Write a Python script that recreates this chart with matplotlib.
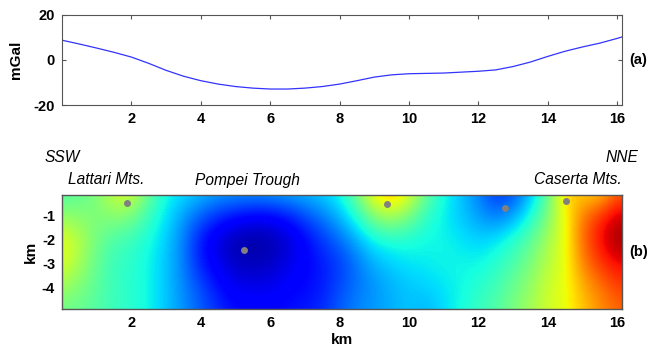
import numpy as np
import matplotlib
matplotlib.use("Agg")
import matplotlib.pyplot as plt

plt.rcParams['font.family'] = ['Liberation Sans', 'DejaVu Sans']
plt.rcParams['axes.unicode_minus'] = False

# (a) gravity profile, mGal
prof_x = [0, 0.5, 1, 1.5, 2, 2.5, 3, 3.5, 4, 4.5, 5, 5.5, 6, 6.5, 7, 7.5, 8,
          8.5, 9, 9.5, 10, 11, 12, 12.5, 13, 13.5, 14, 14.5, 15, 15.5, 16, 16.13]
prof_g = [8.8, 7.1, 5.3, 3.4, 1.3, -1.5, -4.6, -7.2, -9.2, -10.7, -11.8, -12.5,
          -12.9, -12.9, -12.5, -11.8, -10.7, -9.2, -7.6, -6.6, -6.1, -5.8, -5.0,
          -4.4, -2.9, -0.9, 1.6, 3.9, 5.8, 7.5, 9.6, 10.2]

# (b) section values (normalised 0-1), rows at depth 0,-1,...,-5 km, columns every 0.5 km
grid_x = np.arange(0, 16.01, 0.5)
grid_z = [0, -1, -2, -3, -4, -5]
row0 = [0.44, 0.46, 0.50, 0.60, 0.62, 0.48, 0.38, 0.35, 0.32, 0.30, 0.29, 0.29, 0.30, 0.31, 0.32, 0.34, 0.38,
        0.50, 0.68, 0.74, 0.64, 0.48, 0.38, 0.32, 0.25, 0.17, 0.19, 0.30, 0.46, 0.70, 0.68, 0.67, 0.80]
row1 = [0.52, 0.51, 0.50, 0.52, 0.50, 0.42, 0.35, 0.28, 0.22, 0.17, 0.14, 0.12, 0.12, 0.15, 0.20, 0.25, 0.31,
        0.40, 0.52, 0.56, 0.50, 0.41, 0.36, 0.32, 0.28, 0.24, 0.28, 0.38, 0.50, 0.64, 0.78, 0.86, 0.93]
row2 = [0.63, 0.57, 0.49, 0.44, 0.42, 0.38, 0.33, 0.25, 0.14, 0.08, 0.04, 0.03, 0.04, 0.07, 0.12, 0.18, 0.23,
        0.30, 0.37, 0.39, 0.39, 0.37, 0.37, 0.35, 0.33, 0.35, 0.40, 0.46, 0.55, 0.63, 0.80, 0.90, 0.98]
row3 = [0.62, 0.55, 0.47, 0.42, 0.40, 0.37, 0.32, 0.25, 0.15, 0.10, 0.06, 0.05, 0.06, 0.09, 0.12, 0.15, 0.18,
        0.24, 0.30, 0.33, 0.35, 0.36, 0.37, 0.37, 0.37, 0.40, 0.44, 0.50, 0.57, 0.63, 0.77, 0.85, 0.90]
row4 = [0.54, 0.50, 0.46, 0.42, 0.40, 0.37, 0.32, 0.26, 0.20, 0.14, 0.10, 0.10, 0.10, 0.12, 0.13, 0.15, 0.20,
        0.24, 0.27, 0.30, 0.32, 0.33, 0.35, 0.37, 0.40, 0.43, 0.48, 0.53, 0.60, 0.63, 0.72, 0.78, 0.84]
row5 = [0.48, 0.47, 0.45, 0.42, 0.40, 0.37, 0.32, 0.27, 0.22, 0.17, 0.14, 0.13, 0.13, 0.14, 0.15, 0.17, 0.22,
        0.26, 0.28, 0.30, 0.32, 0.30, 0.34, 0.38, 0.42, 0.45, 0.50, 0.55, 0.60, 0.63, 0.70, 0.75, 0.80]

# source positions (km, km)
src_x = [1.87, 5.25, 9.36, 12.77, 14.52]
src_z = [-0.46, -2.43, -0.49, -0.65, -0.37]

field = np.array([row0, row1, row2, row3, row4, row5])

fig = plt.figure(figsize=(6.57, 3.52), dpi=100)
ax1 = fig.add_axes([0.0944, 0.7017, 0.8519, 0.2557])
ax2 = fig.add_axes([0.0944, 0.1222, 0.8519, 0.3239])

edge = '#555555'

# ---- (a)
ax1.plot(prof_x, prof_g, color='#3333ff', linewidth=0.9)
ax1.set_xlim(0, 16.13)
ax1.set_ylim(-20, 20)
ax1.set_xticks([2, 4, 6, 8, 10, 12, 14, 16])
ax1.set_yticks([-20, 0, 20])
ax1.set_ylabel('mGal', fontsize=11, fontweight='bold', labelpad=8)
ax1.tick_params(direction='in', top=True, right=True, length=3, pad=5, color=edge)
for lab in ax1.get_xticklabels() + ax1.get_yticklabels():
    lab.set_fontsize(10.5)
    lab.set_fontweight('bold')
for s in ax1.spines.values():
    s.set_color(edge)
ax1.text(1.013, 0.5, '(a)', transform=ax1.transAxes, ha='left', va='center',
         fontsize=10.5, fontweight='bold')

# ---- (b)
dx = 0.5
ax2.imshow(field, cmap='jet', vmin=0, vmax=1, aspect='auto', interpolation='bicubic',
           extent=(grid_x[0] - dx / 2, grid_x[-1] + dx / 2, grid_z[-1] - 0.5, grid_z[0] + 0.5),
           origin='upper')
ax2.plot(src_x, src_z, 'o', color='#808080', markersize=5, markeredgewidth=0)
ax2.set_xlim(0, 16.13)
ax2.set_ylim(-4.875, -0.125)
ax2.set_xticks([2, 4, 6, 8, 10, 12, 14, 16])
ax2.set_yticks([-4, -3, -2, -1])
ax2.set_xlabel('km', fontsize=11, fontweight='bold', labelpad=2)
ax2.set_ylabel('km', fontsize=11, fontweight='bold', labelpad=3)
ax2.tick_params(direction='in', top=True, right=True, length=0, pad=5)
for lab in ax2.get_xticklabels() + ax2.get_yticklabels():
    lab.set_fontsize(10.5)
    lab.set_fontweight('bold')
for s in ax2.spines.values():
    s.set_color(edge)
    s.set_linewidth(1.0)
ax2.text(1.013, 0.5, '(b)', transform=ax2.transAxes, ha='left', va='center',
         fontsize=10.5, fontweight='bold')

note = dict(fontsize=11.2, style='italic', transform=fig.transFigure)
fig.text(45 / 657, 1 - 158 / 352, 'SSW', ha='left', va='center', **note)
fig.text(638 / 657, 1 - 158 / 352, 'NNE', ha='right', va='center', **note)
fig.text(68 / 657, 1 - 180 / 352, 'Lattari Mts.', ha='left', va='center', **note)
fig.text(195 / 657, 1 - 180 / 352, 'Pompei Trough', ha='left', va='center', **note)
fig.text(622 / 657, 1 - 180 / 352, 'Caserta Mts.', ha='right', va='center', **note)

fig.savefig('out.png', dpi=100)
